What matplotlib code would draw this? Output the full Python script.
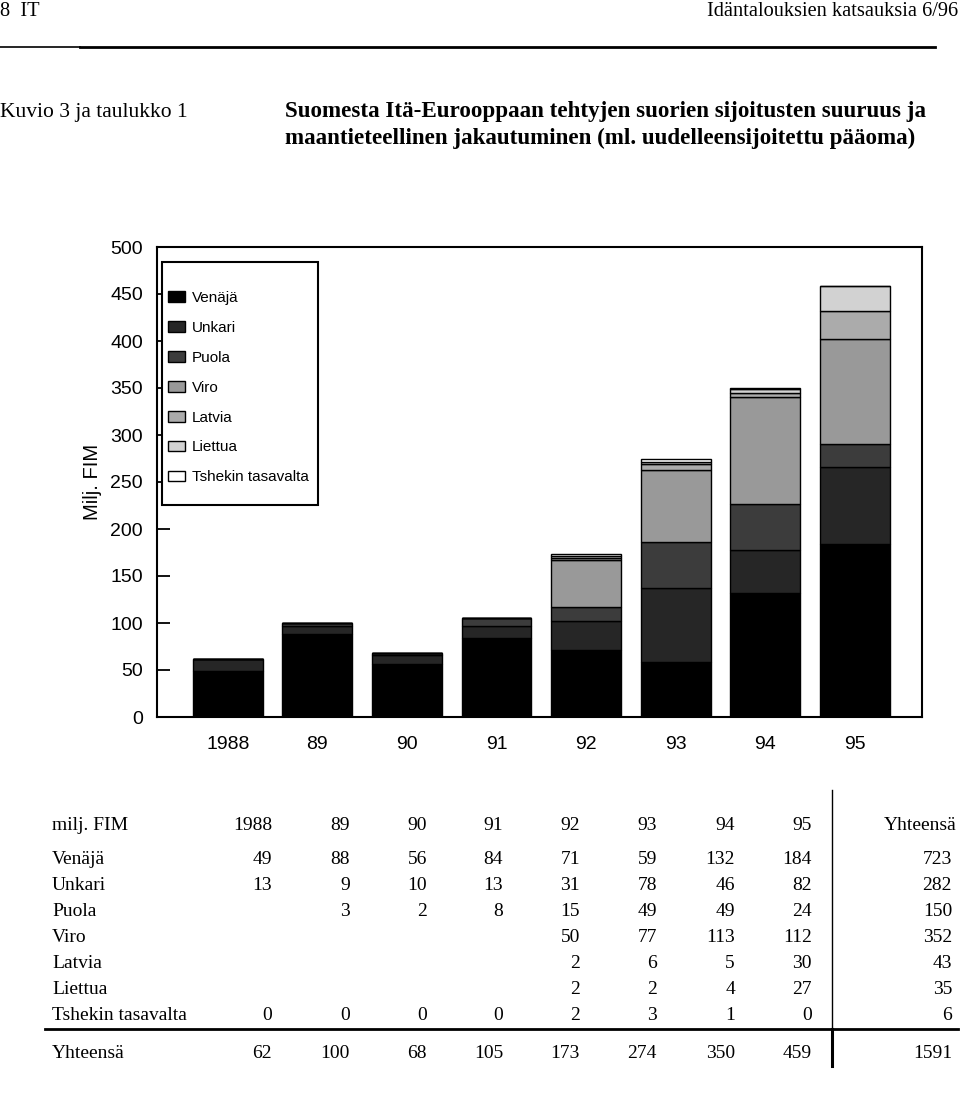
import matplotlib
matplotlib.use('agg')
import matplotlib.pyplot as plt
from matplotlib.patches import Patch, Rectangle
from matplotlib.lines import Line2D

# data (milj. FIM)
years = ['1988', '89', '90', '91', '92', '93', '94', '95']
countries = ['Venäjä', 'Unkari', 'Puola', 'Viro', 'Latvia', 'Liettua', 'Tshekin tasavalta']
venaja = [49, 88, 56, 84, 71, 59, 132, 184]
unkari = [13, 9, 10, 13, 31, 78, 46, 82]
puola = [None, 3, 2, 8, 15, 49, 49, 24]
viro = [None, None, None, None, 50, 77, 113, 112]
latvia = [None, None, None, None, 2, 6, 5, 30]
liettua = [None, None, None, None, 2, 2, 4, 27]
tshekki = [0, 0, 0, 0, 2, 3, 1, 0]
row_totals = [723, 282, 150, 352, 43, 35, 6]
year_totals = [62, 100, 68, 105, 173, 274, 350, 459]
grand_total = 1591

series = [venaja, unkari, puola, viro, latvia, liettua, tshekki]
colors = ['#000000', '#262626', '#3c3c3c', '#999999', '#ababab', '#d2d2d2', '#ffffff']

W, H = 960, 1113
def fx(px):
    return px / W
def fy(py):
    return 1 - py / H

fig = plt.figure(figsize=(9.6, 11.13), dpi=100)
serif = 'Liberation Serif'
sans = 'Liberation Sans'

# page header
fig.text(fx(0), fy(12), '8  IT', family=serif, fontsize=14.7, va='center', ha='left')
fig.text(fx(958), fy(12), 'Idäntalouksien katsauksia 6/96', family=serif, fontsize=14.7,
         va='center', ha='right')
fig.add_artist(Line2D([fx(0), fx(80)], [fy(47), fy(47)], color='black', lw=1.2))
fig.add_artist(Line2D([fx(80), fx(935)], [fy(47), fy(47)], color='black', lw=2))

fig.text(fx(0), fy(112), 'Kuvio 3 ja taulukko 1', family=serif, fontsize=15.5, va='center')
fig.text(fx(285), fy(112), 'Suomesta Itä-Eurooppaan tehtyjen suorien sijoitusten suuruus ja',
         family=serif, fontsize=16.6, weight='bold', va='center')
fig.text(fx(285), fy(138), 'maantieteellinen jakautuminen (ml. uudelleensijoitettu pääoma)',
         family=serif, fontsize=16.6, weight='bold', va='center')

# chart
ax = fig.add_axes([fx(157), fy(717), (922 - 157) / W, (717 - 247) / H])
x = list(range(len(years)))
bottom = [0] * len(years)
for vals, c, name in zip(series, colors, countries):
    v = [0 if a is None else a for a in vals]
    ax.bar(x, v, bottom=bottom, width=0.78, color=c, edgecolor='black', linewidth=1.0,
           label=name)
    bottom = [b + a for b, a in zip(bottom, v)]

ax.set_xlim(-0.79, 7.75)
ax.set_ylim(0, 500)
ax.set_yticks(range(0, 501, 50))
ax.set_xticks(x)
ax.set_xticklabels(years)
for s in ax.spines.values():
    s.set_linewidth(1.5)
ax.tick_params(axis='y', direction='in', length=9.5, width=1.3, pad=10, labelsize=14)
ax.tick_params(axis='x', length=0, pad=14, labelsize=14)
for lab in ax.get_xticklabels() + ax.get_yticklabels():
    lab.set_family(sans)
ax.set_ylabel('Milj. FIM', family=sans, fontsize=14.5, labelpad=6)

# legend box
fig.add_artist(Rectangle((fx(162), fy(505)), (318 - 162) / W, (505 - 262) / H,
                         transform=fig.transFigure, facecolor='white', edgecolor='black',
                         lw=1.5, zorder=5))
handles = [Patch(facecolor=c, edgecolor='black', lw=1.0) for c in colors]
leg = fig.legend(handles, countries, loc='upper left', bbox_to_anchor=(fx(168), fy(291)),
                 frameon=False, prop={'family': sans, 'size': 11}, handlelength=1.1,
                 handleheight=0.7, handletextpad=0.45, labelspacing=1.04, borderpad=0,
                 borderaxespad=0)
leg.set_zorder(6)

# table
cols_right = [272, 350, 427, 503, 580, 657, 735, 812]
tot_right = 952
tsize = 14
fig.text(fx(52), fy(825), 'milj. FIM', family=serif, fontsize=tsize, va='center')
for xr, yr in zip(cols_right, years):
    fig.text(fx(xr), fy(825), yr, family=serif, fontsize=tsize, va='center', ha='right')
fig.text(fx(957), fy(825), 'Yhteensä', family=serif, fontsize=tsize, va='center', ha='right')

row_y = [860, 886, 912, 938, 963, 989, 1016]
for name, vals, tot, yy in zip(countries, series, row_totals, row_y):
    fig.text(fx(52), fy(yy), name, family=serif, fontsize=tsize, va='center')
    for xr, v in zip(cols_right, vals):
        if v is not None:
            fig.text(fx(xr), fy(yy), str(v), family=serif, fontsize=tsize, va='center', ha='right')
    fig.text(fx(tot_right), fy(yy), str(tot), family=serif, fontsize=tsize, va='center', ha='right')

fig.text(fx(52), fy(1053), 'Yhteensä', family=serif, fontsize=tsize, va='center')
for xr, v in zip(cols_right, year_totals):
    fig.text(fx(xr), fy(1053), str(v), family=serif, fontsize=tsize, va='center', ha='right')
fig.text(fx(tot_right), fy(1053), str(grand_total), family=serif, fontsize=tsize,
         va='center', ha='right')

fig.add_artist(Line2D([fx(45), fx(958)], [fy(1029), fy(1029)], color='black', lw=2))
fig.add_artist(Line2D([fx(832), fx(832)], [fy(790), fy(1029)], color='black', lw=1))
fig.add_artist(Line2D([fx(832), fx(832)], [fy(1029), fy(1066)], color='black', lw=2.2))

fig.savefig('out.png', dpi=100)
